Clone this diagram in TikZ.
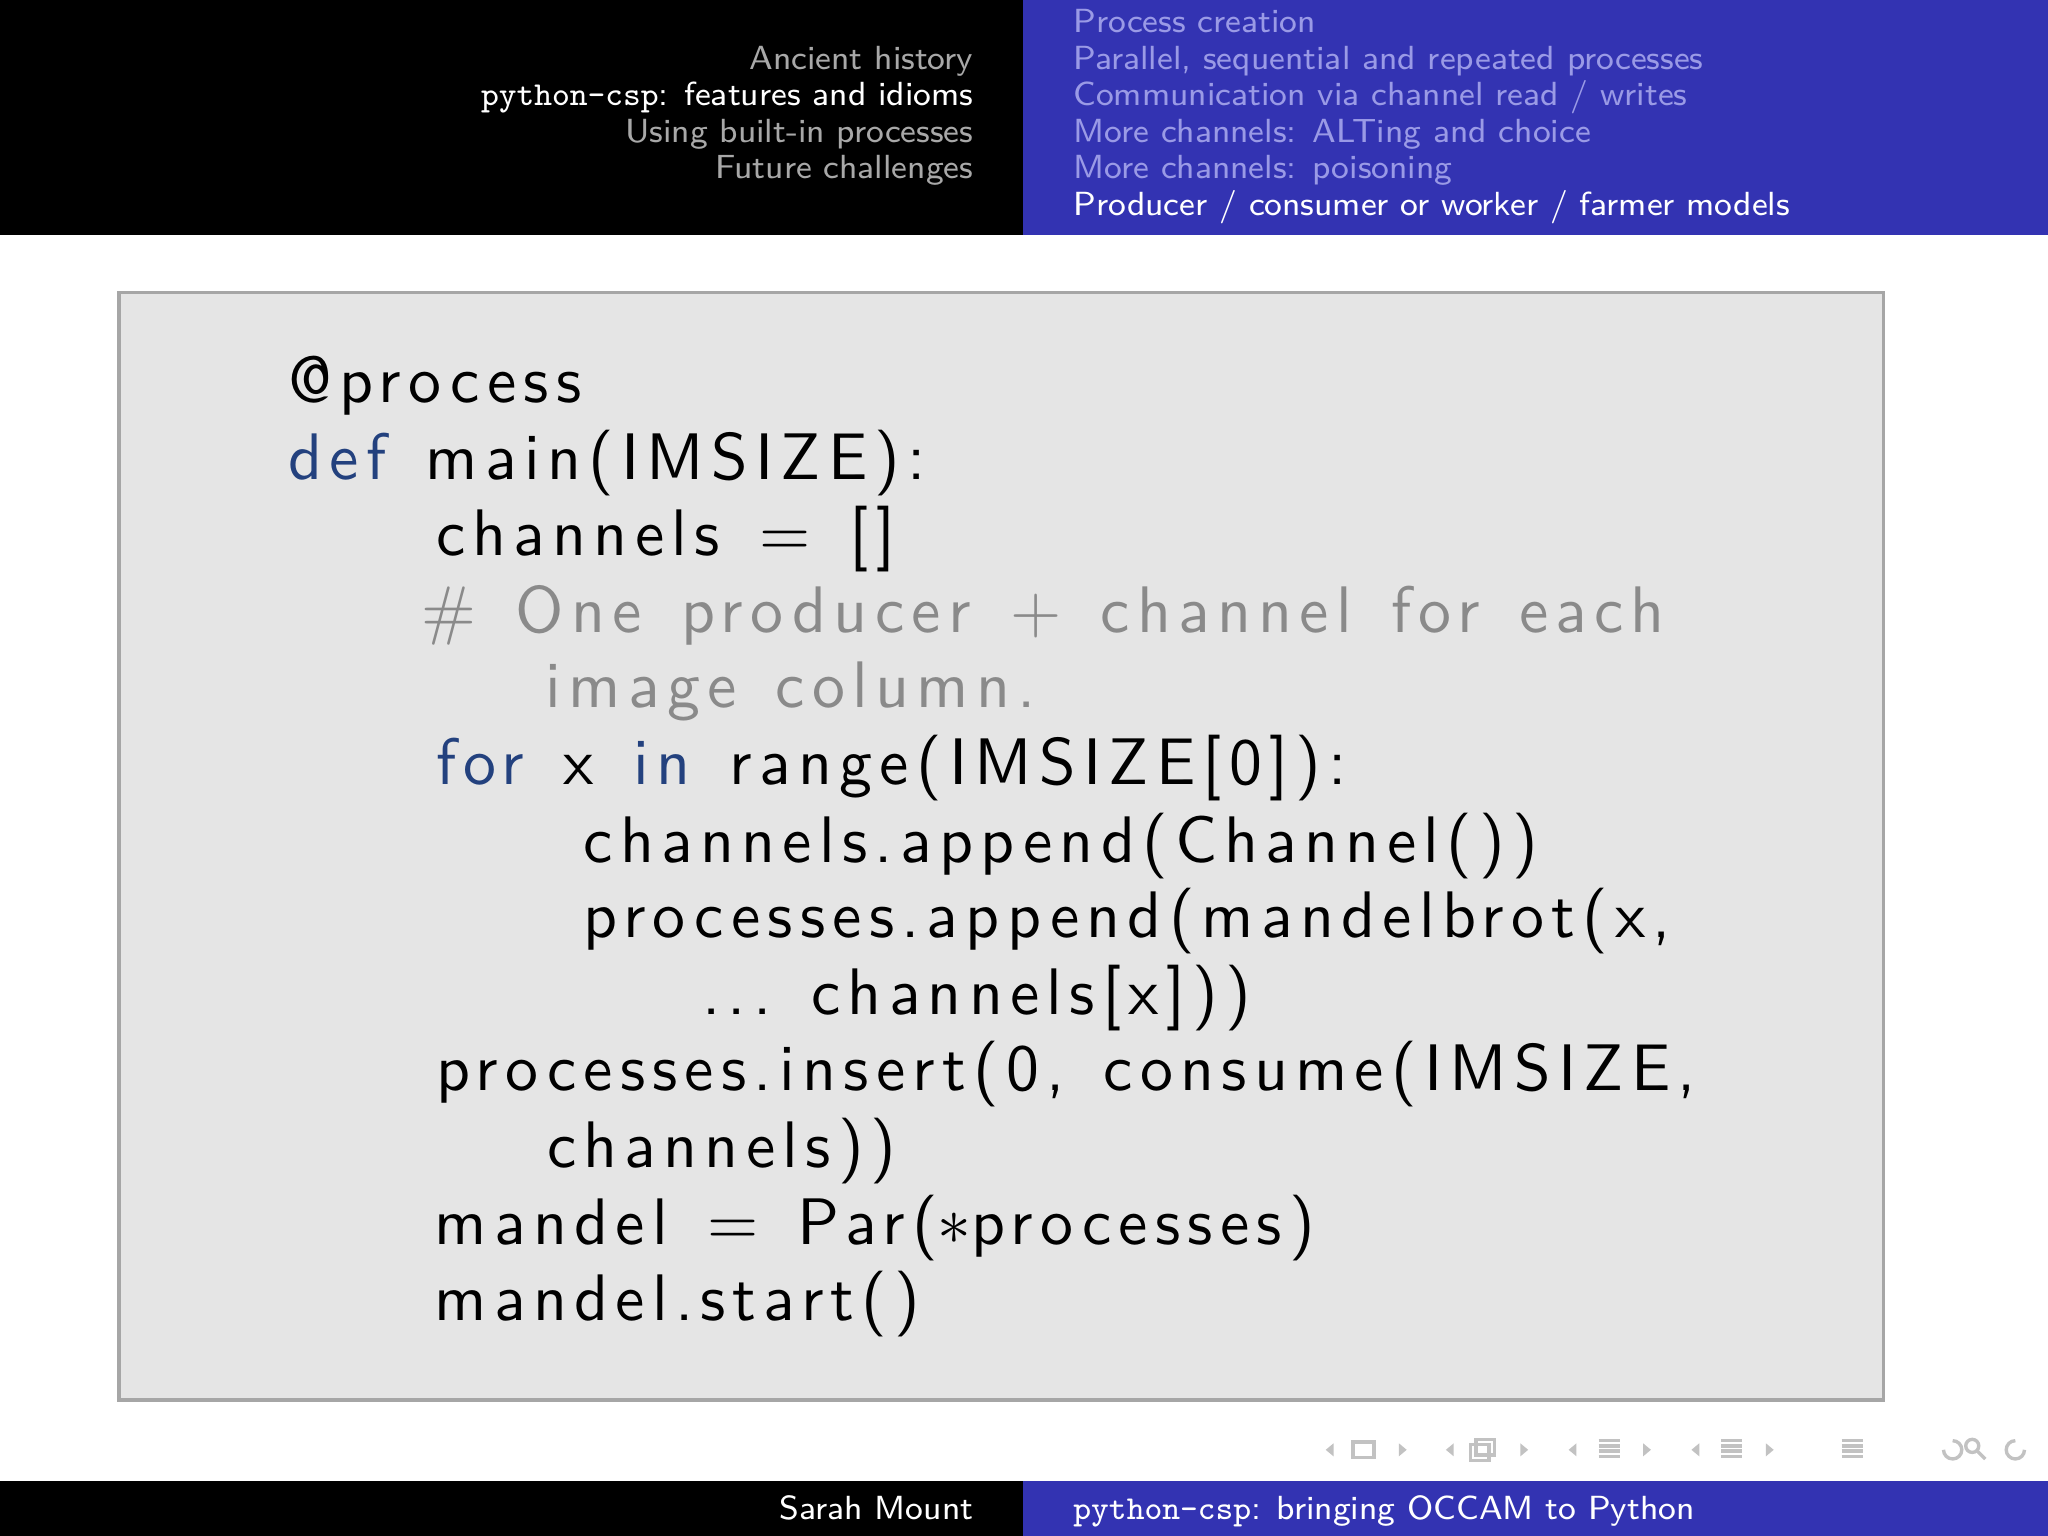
\documentclass[tikz,border=0pt]{standalone}
\usepackage{fontspec}
\newfontfamily\codefont{lmsans10-regular.otf}[LetterSpace=11]
\renewcommand{\familydefault}{\sfdefault}
\definecolor{hdrblue}{HTML}{3333B2}
\definecolor{navgray}{HTML}{A8A8A8}
\definecolor{sublight}{HTML}{9A9AE6}
\definecolor{kw}{HTML}{23417E}
\definecolor{cm}{HTML}{8A8A8A}
\tikzset{
 hl/.style={anchor=base east,inner sep=0,font=\fontsize{5.95}{6}\selectfont\sffamily,text=navgray},
 hr/.style={anchor=base west,inner sep=0,font=\fontsize{5.95}{6}\selectfont\sffamily,text=sublight},
 code/.style={anchor=base west,inner sep=0,font=\fontsize{11.7}{13}\codefont},
}
\newcommand{\csp}{\hspace{0.6em}}
\begin{document}
\begin{tikzpicture}[x=1cm/122.5,y=-1cm/122.5]
\useasboundingbox (0,0) rectangle (1568,1176);
\fill[black] (0,0) rectangle (783,180);
\fill[hdrblue] (783,0) rectangle (1568,180);
\fill[black] (0,1134) rectangle (783,1176);
\fill[hdrblue] (783,1134) rectangle (1568,1176);
\node[hl] (l1) at (746,53) {Ancient history};
\node[hl,text=white] (l2) at (746,81) {\texttt{python-csp}: features and idioms};
\node[hl] (l3) at (746,109) {Using built-in processes};
\node[hl] (l4) at (746,137) {Future challenges};
\node[hr] (r1) at (821,25) {Process creation};
\node[hr] (r2) at (821,53) {Parallel, sequential and repeated processes};
\node[hr] (r3) at (821,81) {Communication via channel read / writes};
\node[hr] (r4) at (821,109) {More channels: ALTing and choice};
\node[hr] (r5) at (821,137) {More channels: poisoning};
\node[hr,text=white] (r6) at (821,165) {Producer / consumer or worker / farmer models};
\node[hl,text=white] (f1) at (746,1163) {Sarah Mount};
\node[hr,text=white] (f2) at (821,1163) {\texttt{python-csp}: bringing OCCAM to Python};
\draw[fill=black!10,draw=black!35,line width=0.6pt] (91,224) rectangle (1442,1072);
\node[code] (c1) at (220,308) {@process};
\node[code] (c2) at (220,367) {\textcolor{kw}{def}\csp main(IMSIZE):};
\node[code] (c3) at (333,425) {channels\csp =\csp []};
\node[code,text=cm] (c4) at (322,484) {\#\csp One\csp producer\csp +\csp channel\csp for\csp each};
\node[code,text=cm] (c5) at (417,542) {image\csp column.};
\node[code] (c6) at (333,601) {\textcolor{kw}{for}\csp x\csp \textcolor{kw}{in}\csp range(IMSIZE[0]):};
\node[code] (c7) at (446,660) {channels.append(Channel())};
\node[code] (c8) at (446,718) {processes.append(mandelbrot(x,};
\node[code] (c9) at (537,777) {...\csp channels[x]))};
\node[code] (c10) at (333,835) {processes.insert(0,\csp consume(IMSIZE,};
\node[code] (c11) at (418,894) {channels))};
\node[code] (c12) at (332,953) {mandel\csp =\csp Par($*$processes)};
\node[code] (c13) at (332,1011) {mandel.start()};
% navigation symbols
\begin{scope}[navgray!70,line width=0.6pt]
\foreach \x in {1015,1107,1201,1295}{\fill (\x,1110) -- (\x+6,1105) -- (\x+6,1115) -- cycle;}
\foreach \x in {1077,1170,1264,1358}{\fill (\x,1110) -- (\x-6,1105) -- (\x-6,1115) -- cycle;}
\draw (1036,1104) rectangle (1052,1116);
\draw (1126,1106) rectangle (1140,1118); \draw (1130,1102) rectangle (1144,1114);
\foreach \x in {1224,1318,1410}{\foreach \d in {0,4,8,12}{\draw (\x,1103+\d) -- (\x+16,1103+\d);}}
\draw (1495,1110) ++(-7,0) arc (180:-90:7);
\draw (1510,1107) circle (5); \draw (1514,1111) -- (1520,1117);
\draw (1543,1110) ++(7,0) arc (0:270:7);
\end{scope}
\end{tikzpicture}
\end{document}
